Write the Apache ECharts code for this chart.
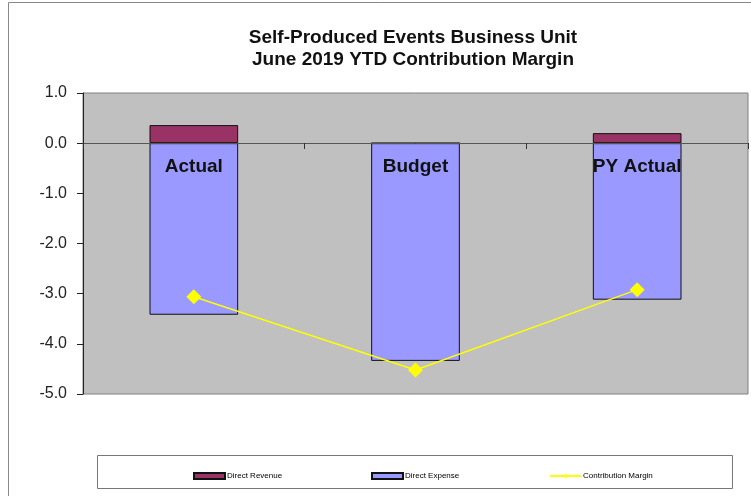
<!DOCTYPE html>
<html>
<head>
<meta charset="utf-8">
<script src="https://cdn.jsdelivr.net/npm/echarts@6/dist/echarts.min.js"></script>
<style>
  html, body { margin: 0; padding: 0; background: #fff; }
  #main { width: 751px; height: 496px; }
</style>
</head>
<body>
<div id="main"></div>
<script>
// data (millions)
var categories = ['Actual', 'Budget', 'PY Actual'];
var directRevenue = [0.36, 0, 0.2];
var directExpense = [-3.42, -4.34, -3.12];
var contributionMargin = [-3.06, -4.52, -2.92];

var font = 'Liberation Sans, Arial, sans-serif';
var myChart = echarts.init(document.getElementById('main'));

function legendAt(name, x, icon) {
    return {
        data: [{ name: name, icon: icon }],
        left: x,
        top: 467,
        itemWidth: 31,
        itemHeight: 6,
        itemGap: 0,
        textStyle: { fontFamily: font, fontSize: 8, color: '#000', padding: [0, 0, 0, -3] },
        selectedMode: false
    };
}

myChart.setOption({
    animation: false,
    title: {
        text: 'Self-Produced Events Business Unit\nJune 2019 YTD Contribution Margin',
        left: 408,
        top: 22,
        textAlign: 'center',
        textStyle: { fontFamily: font, fontSize: 19, fontWeight: 'bold', color: '#111', lineHeight: 22 }
    },
    graphic: [
        {
            type: 'rect', z: -10,
            shape: { x: 8.5, y: 2.5, width: 760, height: 520 },
            style: { fill: '#fff', stroke: '#888', lineWidth: 1 }
        },
        {
            type: 'rect', z: -5,
            shape: { x: 97.5, y: 455.5, width: 635, height: 33 },
            style: { fill: '#fff', stroke: '#777', lineWidth: 1 }
        }
    ],
    legend: [
        legendAt('Direct Revenue', 188, 'rect'),
        legendAt('Direct Expense', 366, 'rect'),
        legendAt('Contribution Margin', 544, null)
    ],
    grid: {
        left: 83, right: 3, top: 93, bottom: 102,
        show: true,
        backgroundColor: '#C0C0C0',
        borderColor: '#808080',
        borderWidth: 1
    },
    xAxis: {
        type: 'category',
        data: categories,
        z: 10,
        // the axis sits on the zero line, labels just below it (inside the bars)
        offset: -251,
        axisLine: { onZero: false, lineStyle: { color: '#555', width: 1 } },
        axisTick: { show: true, length: 6, lineStyle: { color: '#333' } },
        axisLabel: { margin: 14, fontFamily: font, fontSize: 19, fontWeight: 'bold', color: '#111' },
        splitLine: { show: false }
    },
    yAxis: {
        type: 'value',
        min: -5,
        max: 1,
        interval: 1,
        axisLine: { show: true, lineStyle: { color: '#222' } },
        axisTick: { show: true, length: 6, lineStyle: { color: '#222' } },
        axisLabel: {
            margin: 16, fontFamily: font, fontSize: 16, color: '#222',
            formatter: function (v) { return v.toFixed(1); }
        },
        splitLine: { show: false }
    },
    series: [
        {
            name: 'Direct Revenue',
            type: 'bar',
            stack: 'cm',
            barWidth: '40%',
            data: directRevenue,
            itemStyle: { color: '#993366', borderColor: '#111', borderWidth: 1 }
        },
        {
            name: 'Direct Expense',
            type: 'bar',
            stack: 'cm',
            barWidth: '40%',
            data: directExpense,
            itemStyle: { color: '#9999FF', borderColor: '#111', borderWidth: 1 }
        },
        {
            name: 'Contribution Margin',
            type: 'line',
            data: contributionMargin,
            symbol: 'diamond',
            symbolSize: 15,
            z: 5,
            lineStyle: { color: '#FFFF00', width: 1.5 },
            itemStyle: { color: '#FFFF00' }
        }
    ]
});
</script>
</body>
</html>
